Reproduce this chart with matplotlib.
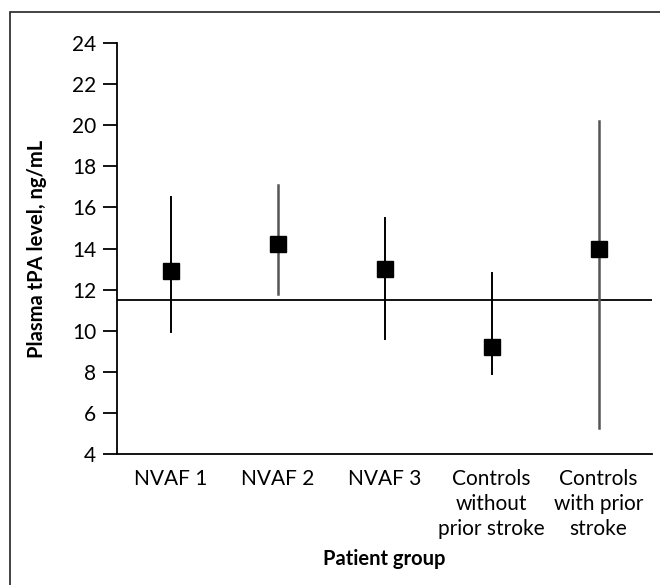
import matplotlib.pyplot as plt
from matplotlib.patches import Rectangle

# data
groups = ["NVAF 1", "NVAF 2", "NVAF 3", "Controls\nwithout\nprior stroke", "Controls\nwith prior\nstroke"]
means = [12.9, 14.2, 13.0, 9.2, 14.0]
upper = [16.5, 17.1, 15.5, 12.8, 20.2]
lower = [9.95, 11.8, 9.6, 7.9, 5.25]
bar_colors = ["black", "#555555", "black", "black", "#555555"]
ref_level = 11.5
yticks = list(range(4, 25, 2))

plt.rcParams['font.family'] = ['Lato', 'DejaVu Sans']

fig = plt.figure(figsize=(6.6, 5.85), dpi=100)
ax = fig.add_axes([0.1773, 0.2239, 0.8106, 0.7026])

x = range(len(groups))
for i in x:
    ax.plot([i, i], [lower[i], upper[i]], color=bar_colors[i],
            lw=1.8 if bar_colors[i] != "black" else 1.4, zorder=2)
ax.plot(list(x), means, linestyle='none', marker='s', ms=11,
        color='black', zorder=3)
ax.axhline(ref_level, color='black', lw=1.3, zorder=1)

ax.set_xlim(-0.5, 4.5)
ax.set_ylim(4, 24)
ax.set_yticks(yticks)
ax.set_xticks(list(x))
ax.set_xticklabels(groups, fontsize=15, linespacing=1.3)
ax.tick_params(axis='x', length=0, pad=11)
ax.tick_params(axis='y', length=10, width=1.3, labelsize=15, pad=5)
for side in ['top', 'right']:
    ax.spines[side].set_visible(False)
for side in ['left', 'bottom']:
    ax.spines[side].set_linewidth(1.3)

ax.set_ylabel("Plasma tPA level, ng/mL", fontsize=14.5, fontweight='bold', labelpad=18)
ax.set_xlabel("Patient group", fontsize=14.5, fontweight='bold', labelpad=7)

# frame around the figure (cropped at right and bottom)
fig.patches.append(Rectangle((10 / 660, -0.05), 1.2, 1 - 12 / 585 + 0.05,
                             transform=fig.transFigure, fill=False,
                             edgecolor='#222222', lw=1.2))

fig.savefig("out.png", dpi=100)
